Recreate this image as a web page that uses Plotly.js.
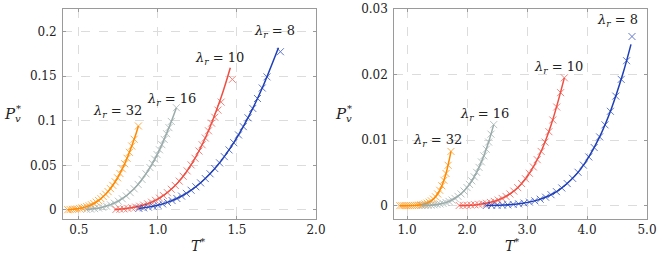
<!DOCTYPE html>
<html>
<head>
<meta charset="utf-8">
<script src="https://cdn.plot.ly/plotly-3.0.1.min.js"></script>
<style>html,body{margin:0;padding:0;background:#fff;}#chart{width:662px;height:258px;}</style>
</head>
<body>
<div id="chart"></div>
<script>
// ---------- LEFT PANEL data (T*, Pv*) ----------
const L8_lineT  = [0.88,0.94,1.00,1.06,1.12,1.18,1.24,1.30,1.36,1.42,1.48,1.54,1.60,1.66,1.7625];
const L8_lineP  = [0.00178,0.00321,0.0054,0.00856,0.01291,0.01867,0.02607,0.03526,0.04648,0.05985,0.07548,0.09348,0.1139,0.1368,0.182];
const L8_markT  = [0.88,0.91,0.94,0.97,1.00,1.03,1.06,1.09,1.12,1.15,1.18,1.21,1.24,1.27,1.30,1.33,1.36,1.39,1.42,1.45,1.48,1.51,1.54,1.57,1.60,1.63,1.66,1.69,1.775];
const L8_markP  = [0.00178,0.00242,0.00321,0.0042,0.0054,0.00685,0.00856,0.01057,0.01291,0.0156,0.01867,0.02215,0.02607,0.03041,0.03526,0.0406,0.04648,0.05287,0.05985,0.06737,0.07548,0.08416,0.09348,0.1034,0.1139,0.125,0.1368,0.1493,0.1775];

const L10_lineT = [0.725,0.80,0.90,1.00,1.10,1.20,1.30,1.40,1.458];
const L10_lineP = [0.000553,0.001589,0.004942,0.01225,0.02574,0.04784,0.0807,0.1264,0.1595];
const L10_markT = [0.735,0.76,0.785,0.81,0.835,0.86,0.885,0.91,0.935,0.96,0.985,1.01,1.035,1.06,1.085,1.11,1.135,1.16,1.185,1.21,1.235,1.26,1.28,1.30,1.32,1.34,1.36,1.38,1.40,1.471];
const L10_markP = [0.000644,0.000929,0.001307,0.001804,0.00244,0.003241,0.004237,0.005462,0.006943,0.008724,0.01083,0.01329,0.01615,0.01945,0.02324,0.02754,0.03239,0.03782,0.04385,0.05059,0.05802,0.06614,0.07316,0.0807,0.08881,0.09738,0.104,0.112,0.121,0.1465];

const L16_lineT = [0.55,0.65,0.75,0.85,0.95,1.01,1.07,1.117];
const L16_lineP = [0.000654,0.003132,0.009875,0.02378,0.04755,0.06749,0.09236,0.1147];
const L16_markT = [0.55,0.575,0.60,0.625,0.65,0.675,0.70,0.725,0.75,0.775,0.80,0.825,0.85,0.875,0.90,0.925,0.95,0.965,0.98,0.995,1.01,1.025,1.04,1.055,1.07,1.085,1.117];
const L16_markP = [0.000654,0.001018,0.001528,0.002218,0.003132,0.004313,0.005793,0.007635,0.009875,0.01257,0.01575,0.01947,0.02378,0.0287,0.03428,0.04056,0.04755,0.05213,0.05699,0.06212,0.06749,0.07326,0.07919,0.08552,0.09236,0.09931,0.1147];

const L32_lineT = [0.43,0.49,0.55,0.61,0.67,0.73,0.79,0.85,0.877];
const L32_lineP = [0.000338,0.001307,0.003765,0.008803,0.01767,0.03165,0.05187,0.07934,0.0942];
const L32_markT = [0.43,0.445,0.46,0.475,0.49,0.505,0.52,0.535,0.55,0.565,0.58,0.595,0.61,0.625,0.64,0.655,0.67,0.685,0.70,0.715,0.73,0.745,0.76,0.775,0.79,0.805,0.82,0.835,0.85,0.877];
const L32_markP = [0.000338,0.00049,0.000695,0.000963,0.001307,0.001744,0.002286,0.002953,0.003765,0.004734,0.005881,0.007234,0.008803,0.01061,0.01268,0.01503,0.01767,0.02065,0.02395,0.02763,0.03165,0.03608,0.04093,0.04619,0.05187,0.05802,0.06464,0.07172,0.07934,0.0942];

// ---------- RIGHT PANEL data (T*, Pv*) ----------
const R8_lineT  = [2.32,2.6,2.9,3.2,3.5,3.8,4.0,4.2,4.4,4.6,4.733];
const R8_lineP  = [0.00001946,0.000088,0.0003207,0.0009174,0.00219,0.004557,0.006992,0.010298,0.01464,0.020185,0.0246];
const R8_markT  = [2.32,2.41,2.50,2.59,2.68,2.77,2.86,2.95,3.04,3.13,3.22,3.31,3.40,3.49,3.58,3.67,3.76,3.85,3.94,4.03,4.12,4.21,4.30,4.39,4.48,4.57,4.66,4.75];
const R8_markP  = [0.00001946,0.00003287,0.00005339,0.0000839,0.0001278,0.0001896,0.0002741,0.0003878,0.0005373,0.0007311,0.000977,0.001285,0.001667,0.002134,0.002696,0.003366,0.004161,0.005093,0.006177,0.007427,0.008863,0.010486,0.012328,0.014392,0.01671,0.01926,0.02211,0.0258];

const R10_lineT = [1.87,2.2,2.5,2.8,3.0,3.2,3.4,3.622];
const R10_lineP = [0.00002342,0.0001886,0.0007787,0.002372,0.004406,0.007574,0.01228,0.0195];
const R10_markT = [1.87,1.935,2.0,2.065,2.13,2.195,2.26,2.325,2.39,2.455,2.52,2.585,2.65,2.715,2.78,2.845,2.91,2.975,3.04,3.105,3.17,3.235,3.30,3.365,3.43,3.495,3.56,3.622];
const R10_markP = [0.00002342,0.00003735,0.00005783,0.00008705,0.0001278,0.0001836,0.0002579,0.0003559,0.0004823,0.0006432,0.000846,0.001096,0.001404,0.001776,0.002218,0.002748,0.00337,0.004099,0.004937,0.005904,0.007013,0.008273,0.00969,0.01128,0.013066,0.015044,0.017237,0.0195];

const R16_lineT = [1.25,1.5,1.7,1.9,2.04,2.16,2.28,2.36,2.445];
const R16_lineP = [0.00001952,0.0001762,0.0006426,0.001787,0.003241,0.005077,0.007592,0.009699,0.01236];
const R16_markT = [1.25,1.30,1.35,1.40,1.45,1.50,1.55,1.60,1.65,1.70,1.75,1.80,1.85,1.90,1.95,2.00,2.04,2.08,2.12,2.16,2.20,2.24,2.28,2.32,2.36,2.40,2.445];
const R16_markP = [0.00001952,0.00003244,0.00005191,0.00008027,0.0001206,0.0001762,0.0002513,0.0003502,0.0004789,0.0006426,0.0008477,0.001102,0.001412,0.001787,0.00223,0.002756,0.003241,0.003784,0.004397,0.005077,0.005834,0.006671,0.007592,0.008601,0.009699,0.010904,0.01236];

const R32_lineT = [0.88,1.09,1.265,1.405,1.51,1.58,1.65,1.733];
const R32_lineP = [0.00000035,0.00001804,0.0001772,0.0007318,0.001782,0.003025,0.004902,0.00827];
const R32_markT = [0.88,0.915,0.95,0.985,1.02,1.055,1.09,1.125,1.16,1.195,1.23,1.265,1.30,1.335,1.37,1.405,1.44,1.475,1.51,1.545,1.58,1.615,1.65,1.685,1.733];
const R32_markP = [0.00000035,0.00000077,0.0000016,0.0000031,0.0000058,0.0000104,0.000018,0.0000302,0.0000489,0.000077,0.0001182,0.0001772,0.0002597,0.0003738,0.0005272,0.0007318,0.0009991,0.001344,0.001782,0.002337,0.003025,0.003866,0.004902,0.006153,0.00827];

// ---------- labels ----------
const curveLabels = ['32','16','10','8'];
const leftLabelT = [0.746,1.089,1.392,1.736];
const leftLabelP = [0.110,0.1244,0.170,0.200];
const rightLabelT = [1.50,2.289,3.522,4.511];
const rightLabelP = [0.00991,0.01389,0.02104,0.02818];

const leftXTicks = [0.5,1.0,1.5,2.0];
const leftXTickText = ['0.5','1.0','1.5','2.0'];
const leftYTicks = [0,0.05,0.1,0.15,0.2];
const leftYTickText = ['0','0.05','0.1','0.15','0.2'];
const rightXTicks = [1,2,3,4,5];
const rightXTickText = ['1.0','2.0','3.0','4.0','5.0'];
const rightYTicks = [0,0.01,0.02,0.03];
const rightYTickText = ['0','0.01','0.02','0.03'];

// ---------- styles ----------
const COL = {c32:'#ff8a00', c16:'#9aabaa', c10:'#ef4f43', c8:'#1f3fb8'};
const FONT = 'DejaVu Serif, serif';
const FS = 12;

function lineTrace(x,y,color,xa,ya){
  return {x:x,y:y,mode:'lines',type:'scatter',xaxis:xa,yaxis:ya,
    line:{color:color,width:1.5,shape:'spline',smoothing:1},hoverinfo:'skip'};
}
function markTrace(x,y,color,xa,ya){
  return {x:x,y:y,mode:'markers',type:'scatter',xaxis:xa,yaxis:ya,opacity:0.7,
    marker:{symbol:'x-thin',size:7,color:color,line:{color:color,width:1}},hoverinfo:'skip'};
}

const data = [
  lineTrace(L32_lineT,L32_lineP,COL.c32,'x','y'), markTrace(L32_markT,L32_markP,COL.c32,'x','y'),
  lineTrace(L16_lineT,L16_lineP,COL.c16,'x','y'), markTrace(L16_markT,L16_markP,COL.c16,'x','y'),
  lineTrace(L10_lineT,L10_lineP,COL.c10,'x','y'), markTrace(L10_markT,L10_markP,COL.c10,'x','y'),
  lineTrace(L8_lineT,L8_lineP,COL.c8,'x','y'),   markTrace(L8_markT,L8_markP,COL.c8,'x','y'),
  lineTrace(R32_lineT,R32_lineP,COL.c32,'x2','y2'), markTrace(R32_markT,R32_markP,COL.c32,'x2','y2'),
  lineTrace(R16_lineT,R16_lineP,COL.c16,'x2','y2'), markTrace(R16_markT,R16_markP,COL.c16,'x2','y2'),
  lineTrace(R10_lineT,R10_lineP,COL.c10,'x2','y2'), markTrace(R10_markT,R10_markP,COL.c10,'x2','y2'),
  lineTrace(R8_lineT,R8_lineP,COL.c8,'x2','y2'),   markTrace(R8_markT,R8_markP,COL.c8,'x2','y2')
];

function axisBase(){
  return {showline:true,linecolor:'#9a9a9a',linewidth:1,mirror:'ticks',
    ticks:'inside',ticklen:3,tickcolor:'#9a9a9a',tickwidth:1,
    showgrid:true,gridcolor:'#dcdcdc',griddash:'dash',gridwidth:1,zeroline:false,
    tickfont:{family:FONT,size:FS,color:'#222'},tickmode:'array',fixedrange:true};
}
const yDom = [39/258, 249/258];
const layout = {
  width:662,height:258,margin:{l:0,r:0,t:0,b:0},
  paper_bgcolor:'#fff',plot_bgcolor:'#fff',showlegend:false,
  font:{family:FONT,color:'#222',size:FS},
  xaxis:Object.assign(axisBase(),{domain:[63/662,316/662],range:[0.4,2.0],tickvals:leftXTicks,ticktext:leftXTickText,anchor:'y'}),
  yaxis:Object.assign(axisBase(),{domain:yDom,range:[-0.0101,0.2254],tickvals:leftYTicks,ticktext:leftYTickText,anchor:'x',ticklabelstandoff:3}),
  xaxis2:Object.assign(axisBase(),{domain:[394.3/662,647/662],range:[0.788,5.0],tickvals:rightXTicks,ticktext:rightXTickText,anchor:'y2'}),
  yaxis2:Object.assign(axisBase(),{domain:yDom,range:[-0.00204,0.03],tickvals:rightYTicks,ticktext:rightYTickText,anchor:'x2',ticklabelstandoff:3}),
  annotations:[]
};

for(let i=0;i<curveLabels.length;i++){
  layout.annotations.push({x:leftLabelT[i],y:leftLabelP[i],xref:'x',yref:'y',showarrow:false,
    text:'<i>λ</i><sub><i>r</i></sub> = '+curveLabels[i],font:{family:FONT,size:13,color:'#222'}});
  layout.annotations.push({x:rightLabelT[i],y:rightLabelP[i],xref:'x2',yref:'y2',showarrow:false,
    text:'<i>λ</i><sub><i>r</i></sub> = '+curveLabels[i],font:{family:FONT,size:13,color:'#222'}});
}
// axis titles
const xTitleY = 1-245/258;
layout.annotations.push({x:189.5/662,y:xTitleY,xref:'paper',yref:'paper',showarrow:false,yanchor:'middle',
  text:'<i>T</i><sup>*</sup>',font:{family:FONT,size:14,color:'#222'}});
layout.annotations.push({x:520.7/662,y:xTitleY,xref:'paper',yref:'paper',showarrow:false,yanchor:'middle',
  text:'<i>T</i><sup>*</sup>',font:{family:FONT,size:14,color:'#222'}});
function yTitle(px){
  layout.annotations.push({x:px/662,y:1-114/258,xref:'paper',yref:'paper',showarrow:false,xanchor:'center',
    text:'<i>P</i>',font:{family:FONT,size:15,color:'#222'}});
  layout.annotations.push({x:(px+8)/662,y:1-119/258,xref:'paper',yref:'paper',showarrow:false,xanchor:'center',
    text:'<i>v</i>',font:{family:FONT,size:10,color:'#222'}});
  layout.annotations.push({x:(px+8)/662,y:1-108/258,xref:'paper',yref:'paper',showarrow:false,xanchor:'center',
    text:'*',font:{family:FONT,size:10,color:'#222'}});
}
yTitle(10);
yTitle(341);

Plotly.newPlot('chart',data,layout,{staticPlot:true,displayModeBar:false});
</script>
</body>
</html>
